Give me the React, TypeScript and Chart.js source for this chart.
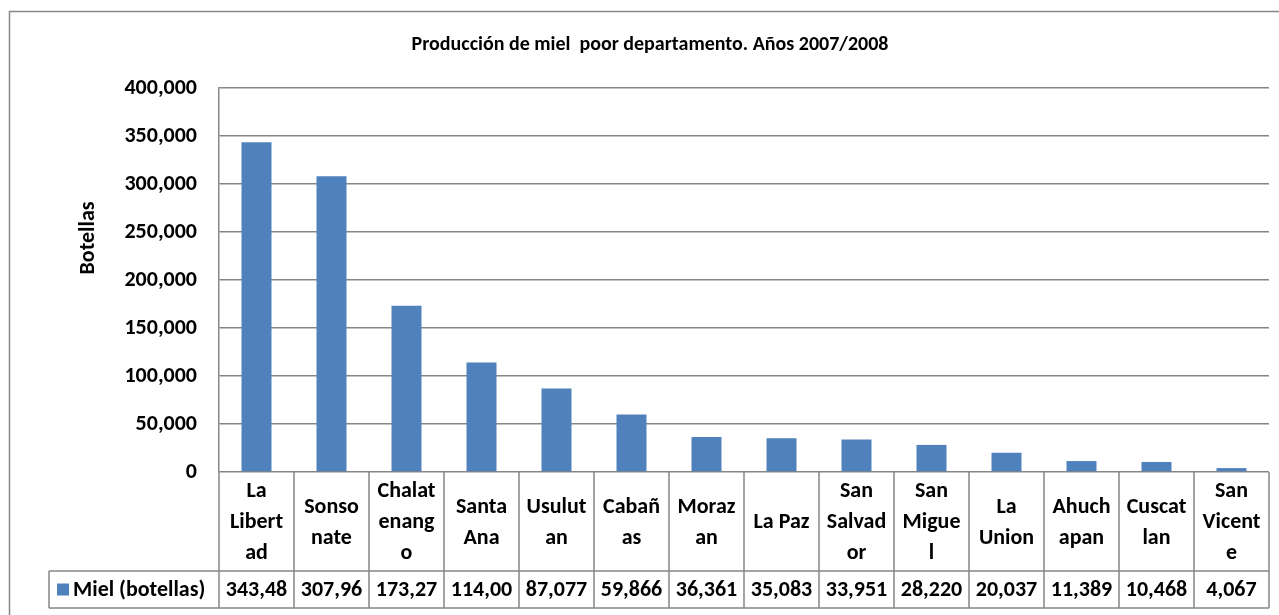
import React, { useEffect, useRef } from "react";
import { Chart, registerables } from "chart.js";

Chart.register(...registerables);

const categories: string[][] = [
  ["La", "Libert", "ad"],
  ["Sonso", "nate"],
  ["Chalat", "enang", "o"],
  ["Santa", "Ana"],
  ["Usulut", "an"],
  ["Cabañ", "as"],
  ["Moraz", "an"],
  ["La Paz"],
  ["San", "Salvad", "or"],
  ["San", "Migue", "l"],
  ["La", "Union"],
  ["Ahuch", "apan"],
  ["Cuscat", "lan"],
  ["San", "Vicent", "e"],
];
const mielValues: number[] = [
  343480, 307960, 173270, 114000, 87077, 59866, 36361, 35083, 33951, 28220,
  20037, 11389, 10468, 4067,
];
const seriesName = "Miel (botellas)";
const chartTitle = "Producción de miel  poor departamento. Años 2007/2008";
const yAxisTitle = "Botellas";
const yTicks: number[] = [0, 50000, 100000, 150000, 200000, 250000, 300000, 350000, 400000];

const FONT = 'Carlito, "Liberation Sans Narrow", "Open Sans", sans-serif';
const BAR = "#4F81BD";
const LINE = "#868686";

const fmt = (v: number) => v.toLocaleString("en-US");

const tablePlugin = {
  id: "excelTable",
  afterDraw(chart: any) {
    const ctx = chart.ctx as CanvasRenderingContext2D;
    const area = chart.chartArea;
    const xs = chart.scales.x;
    const n = categories.length;
    const colW = (area.right - area.left) / n;
    const rowTop = area.bottom;
    const rowMid = rowTop + 99;
    const rowBot = rowMid + 37;
    const legendLeft = 49;
    ctx.save();
    // outer border
    ctx.strokeStyle = LINE;
    ctx.lineWidth = 1.5;
    ctx.strokeRect(9.5, 11.5, 1300, 700);
    // table lines
    ctx.beginPath();
    ctx.moveTo(legendLeft, rowMid);
    ctx.lineTo(area.right, rowMid);
    ctx.moveTo(legendLeft, rowBot);
    ctx.lineTo(area.right, rowBot);
    ctx.moveTo(legendLeft, rowMid);
    ctx.lineTo(legendLeft, rowBot);
    for (let i = 0; i <= n; i++) {
      const x = area.left + i * colW;
      ctx.moveTo(x, rowTop);
      ctx.lineTo(x, rowBot);
    }
    ctx.stroke();
    // category labels
    ctx.fillStyle = "#000";
    ctx.font = `bold 22px ${FONT}`;
    ctx.textAlign = "center";
    ctx.textBaseline = "middle";
    const lh = 31;
    const catMid = (rowTop + rowMid) / 2 + 1;
    categories.forEach((lines, i) => {
      const cx = xs.getPixelForValue(i);
      const start = catMid - ((lines.length - 1) * lh) / 2;
      lines.forEach((t, j) => ctx.fillText(t, cx, start + j * lh));
      const val = fmt(mielValues[i]).slice(0, 6);
      ctx.fillText(val, cx, (rowMid + rowBot) / 2 + 1);
    });
    // legend cell
    ctx.fillStyle = BAR;
    ctx.fillRect(57, (rowMid + rowBot) / 2 - 6, 12, 12);
    ctx.fillStyle = "#000";
    ctx.textAlign = "left";
    ctx.fillText(seriesName, 73, (rowMid + rowBot) / 2 + 1);
    // title
    ctx.font = `bold 20px ${FONT}`;
    ctx.textAlign = "center";
    ctx.fillText(chartTitle, 650, 45);
    // y axis title
    ctx.font = `bold 22px ${FONT}`;
    ctx.translate(88, 238);
    ctx.rotate(-Math.PI / 2);
    ctx.fillText(yAxisTitle, 0, 0);
    ctx.restore();
  },
};

const bgPlugin = {
  id: "bg",
  beforeDraw(chart: any) {
    const ctx = chart.ctx;
    ctx.save();
    ctx.fillStyle = "#fff";
    ctx.fillRect(0, 0, chart.width, chart.height);
    ctx.restore();
  },
};

export default function App() {
  const ref = useRef<HTMLCanvasElement>(null);
  useEffect(() => {
    if (!ref.current) return;
    const chart = new Chart(ref.current, {
      type: "bar",
      data: {
        labels: categories.map((c) => c.join("")),
        datasets: [
          {
            label: seriesName,
            data: mielValues,
            backgroundColor: BAR,
            categoryPercentage: 1,
            barPercentage: 0.4,
          },
        ],
      },
      options: {
        responsive: false,
        animation: false,
        layout: { padding: { top: 88, right: 10, bottom: 143, left: 0 } },
        plugins: {
          legend: { display: false },
          title: { display: false },
          tooltip: { enabled: false },
        },
        scales: {
          x: { display: false },
          y: {
            min: 0,
            max: 400000,
            afterFit: (s: any) => {
              s.width = 219;
            },
            afterBuildTicks: (s: any) => {
              s.ticks = yTicks.map((v) => ({ value: v }));
            },
            ticks: {
              padding: 22,
              color: "#000",
              font: { family: FONT, size: 22, weight: "bold" },
              callback: (v: any) => fmt(Number(v)),
            },
            grid: { color: LINE, lineWidth: 1.5, drawTicks: false },
            border: { display: true, color: LINE, width: 1.5 },
          },
        },
      },
      plugins: [bgPlugin, tablePlugin],
    });
    return () => chart.destroy();
  }, []);
  return (
    <div style={{ position: "fixed", left: 0, top: 0, width: 1279, height: 615 }}>
      <canvas ref={ref} width={1279} height={615} />
    </div>
  );
}
